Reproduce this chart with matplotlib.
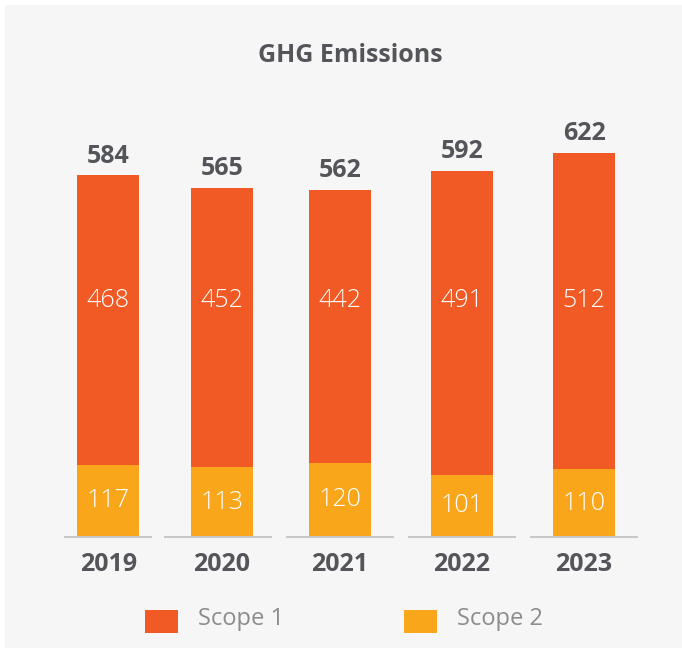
import matplotlib
matplotlib.use("Agg")
import matplotlib.pyplot as plt
from matplotlib.patches import Rectangle

# data
years = ["2019", "2020", "2021", "2022", "2023"]
scope1 = [468, 452, 442, 491, 512]
scope2 = [117, 113, 120, 101, 110]
totals = [584, 565, 562, 592, 622]

# layout (category positions, slightly uneven like the source)
xpos = [0.1, 1.03, 2.0, 3.0, 4.0]
seg_c = [0.1, 1.0, 2.0, 3.0, 4.0]
seg_hw = [0.36, 0.443, 0.443, 0.443, 0.443]

c1 = "#F15A24"
c2 = "#F9A61B"
dark = "#54555A"
grey = "#8C8C8C"
plt.rcParams["font.family"] = ["Open Sans", "DejaVu Sans"]

W, H = 682, 648
fig = plt.figure(figsize=(W / 100, H / 100), dpi=100, facecolor="white")
fig.patches.append(Rectangle((5 / W, 0), 1, 1 - 5 / H, transform=fig.transFigure,
                             facecolor="#F6F6F6", edgecolor="none", zorder=-5))

ax = fig.add_axes([0, 0, 1, 1])
ax.set_facecolor("none")
k = 0.618  # px per unit
base = 537
ax.set_xlim((0 - 340) / 122 + 2, (W - 340) / 122 + 2)
ax.set_ylim(-(H - base) / k, base / k)
ax.axis("off")

bw = 62 / 122
ax.bar(xpos, scope2, width=bw, color=c2, zorder=2)
ax.bar(xpos, scope1, width=bw, bottom=scope2, color=c1, zorder=2)

for i in range(len(years)):
    ax.hlines(0, seg_c[i] - seg_hw[i], seg_c[i] + seg_hw[i], color="#C8C8C8", lw=1.5, zorder=3)
    ax.text(xpos[i], scope2[i] / 2, str(scope2[i]), ha="center", va="center",
            color="white", fontsize=18, fontweight="light")
    ax.text(xpos[i], 383, str(scope1[i]), ha="center", va="center",
            color="white", fontsize=18, fontweight="light")
    ax.text(xpos[i], scope1[i] + scope2[i] + 11, str(totals[i]), ha="center", va="bottom",
            color=dark, fontsize=18, fontweight="bold")
    ax.text(xpos[i], -44, years[i], ha="center", va="center",
            color=dark, fontsize=18, fontweight="bold")

fig.text(350 / W, 1 - 55 / H, "GHG Emissions", ha="center", va="center",
         color=dark, fontsize=18, fontweight="bold")

# legend
for (lx, txt, col) in [(145, "Scope 1", c1), (404, "Scope 2", c2)]:
    fig.patches.append(Rectangle((lx / W, 1 - 633 / H), 33 / W, 23 / H,
                                 transform=fig.transFigure, facecolor=col,
                                 edgecolor="none"))
    fig.text((lx + 53) / W, 1 - 619 / H, txt, ha="left", va="center",
             color=grey, fontsize=17)

fig.savefig("out.png", dpi=100)
